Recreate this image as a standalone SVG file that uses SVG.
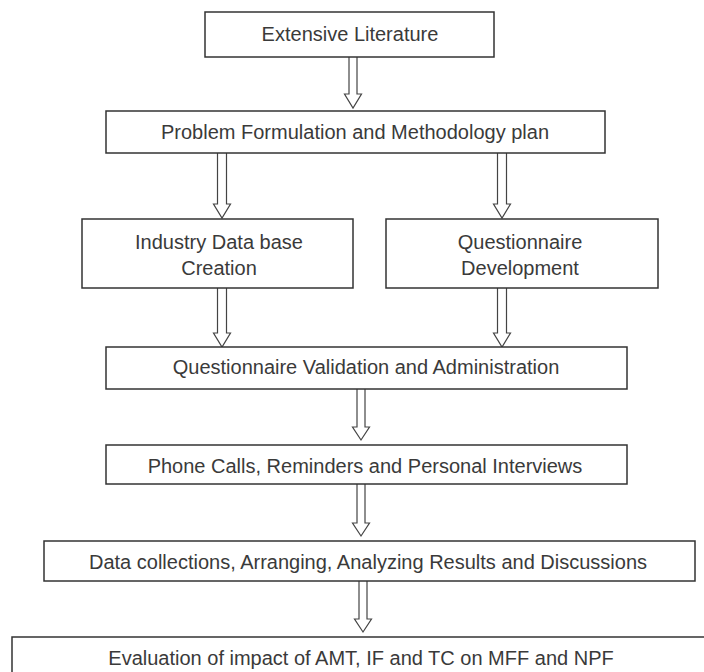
<svg xmlns="http://www.w3.org/2000/svg" width="704" height="672" viewBox="0 0 704 672">
<style>
.box{fill:#fff;stroke:#333;stroke-width:1.5}
.t{font-family:"Liberation Sans",Arial,sans-serif;font-size:20px;fill:#3a3a3a;text-anchor:middle}
.arr{fill:#fff;stroke:#444;stroke-width:1.2;stroke-linejoin:miter}
</style>
<rect width="704" height="672" fill="#fff"/>
<g id="connectors">
<path class="arr" d="M349,57 V94 H344.5 L353,108 L361.5,94 H357 V57"/>
<path class="arr" d="M217.5,153 V204 H213.5 L222,218 L230.5,204 H226.5 V153"/>
<path class="arr" d="M497.5,153 V204 H493.5 L502,218 L510.5,204 H506.5 V153"/>
<path class="arr" d="M217.5,288 V333 H213.5 L222,347 L230.5,333 H226.5 V288"/>
<path class="arr" d="M497.5,288 V333 H493.5 L502,347 L510.5,333 H506.5 V288"/>
<path class="arr" d="M357,389 V427 H352.5 L361,440 L369.5,427 H365 V389"/>
<path class="arr" d="M357,484 V523 H352.5 L361,536 L369.5,523 H365 V484"/>
<path class="arr" d="M359,581 V619 H354.5 L363,632 L371.5,619 H367 V581"/>
</g>
<g id="n1"><rect class="box" x="205" y="12" width="289" height="45"/><text class="t" x="350" y="41">Extensive Literature</text></g>
<g id="n2"><rect class="box" x="106" y="111" width="499" height="42"/><text class="t" x="355" y="139">Problem Formulation and Methodology plan</text></g>
<g id="n3"><rect class="box" x="82" y="219" width="271" height="69"/><text class="t" x="219" y="249">Industry Data base</text><text class="t" x="219" y="275">Creation</text></g>
<g id="n4"><rect class="box" x="386" y="219" width="272" height="69"/><text class="t" x="520" y="249">Questionnaire</text><text class="t" x="520" y="275">Development</text></g>
<g id="n5"><rect class="box" x="106" y="347" width="521" height="42"/><text class="t" x="366" y="374">Questionnaire Validation and Administration</text></g>
<g id="n6"><rect class="box" x="106" y="445" width="521" height="39"/><text class="t" x="365" y="473">Phone Calls, Reminders and Personal Interviews</text></g>
<g id="n7"><rect class="box" x="44" y="541" width="651" height="40"/><text class="t" x="368" y="569">Data collections, Arranging, Analyzing Results and Discussions</text></g>
<g id="n8"><rect class="box" x="12" y="637" width="720" height="60"/><text class="t" x="361" y="665">Evaluation of impact of AMT, IF and TC on MFF and NPF</text></g>
</svg>
